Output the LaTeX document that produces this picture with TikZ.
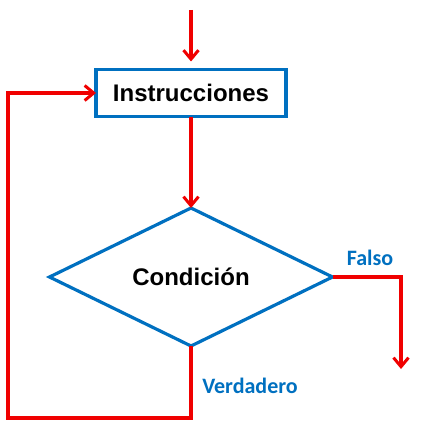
\documentclass[tikz,border=0pt]{standalone}
\usepackage{fontspec}
\setmainfont{Liberation Sans}
\newfontfamily\calfont{Carlito}
\usetikzlibrary{shapes.geometric,arrows.meta}
\definecolor{flowred}{RGB}{240,0,0}
\definecolor{flowblue}{RGB}{0,112,192}
\begin{document}
\begin{tikzpicture}[x=1pt,y=-1pt,
  boxstyle/.style={draw=flowblue,line width=3.2pt,fill=white,minimum width=190pt,minimum height=47pt,inner sep=0pt,outer sep=0pt,font=\fontsize{24}{27}\selectfont\bfseries},
  decstyle/.style={diamond,draw=flowblue,line width=3.2pt,fill=white,minimum width=283pt,minimum height=138pt,aspect=2.05,inner sep=0pt,outer sep=0pt,font=\fontsize{24}{27}\selectfont\bfseries},
  flow/.style={draw=flowred,line width=3.2pt,-{Straight Barb[length=9pt,width=15pt,line width=3pt]}},
  lbl/.style={text=flowblue,font=\calfont\fontsize{22}{24}\selectfont\bfseries,inner sep=0pt}]
\useasboundingbox (0,0) rectangle (423,436);
\node[boxstyle] (instr) at (191,93) {Instrucciones};
\node[decstyle] (cond) at (191,277) {Condición};
\coordinate (start) at (191,10);
\coordinate (fr) at (401,277);
\coordinate (fend) at (401,369);
\coordinate (vb) at (191,418);
\coordinate (lb) at (8,418);
\coordinate (lt) at (8,93);
\draw[flow,shorten >=8pt] (start) -- (instr.north);
\draw[flow] (instr.south) -- (cond.north);
\draw[flow,line join=miter] (cond.east) -- (fr) -- (fend);
\draw[flow,line join=miter] (cond.south) -- (vb) -- (lb) -- (lt) -- (instr.west);
\node[lbl] (falso) at (370,258) {Falso};
\node[lbl] (verd) at (250,386) {Verdadero};
\end{tikzpicture}
\end{document}
